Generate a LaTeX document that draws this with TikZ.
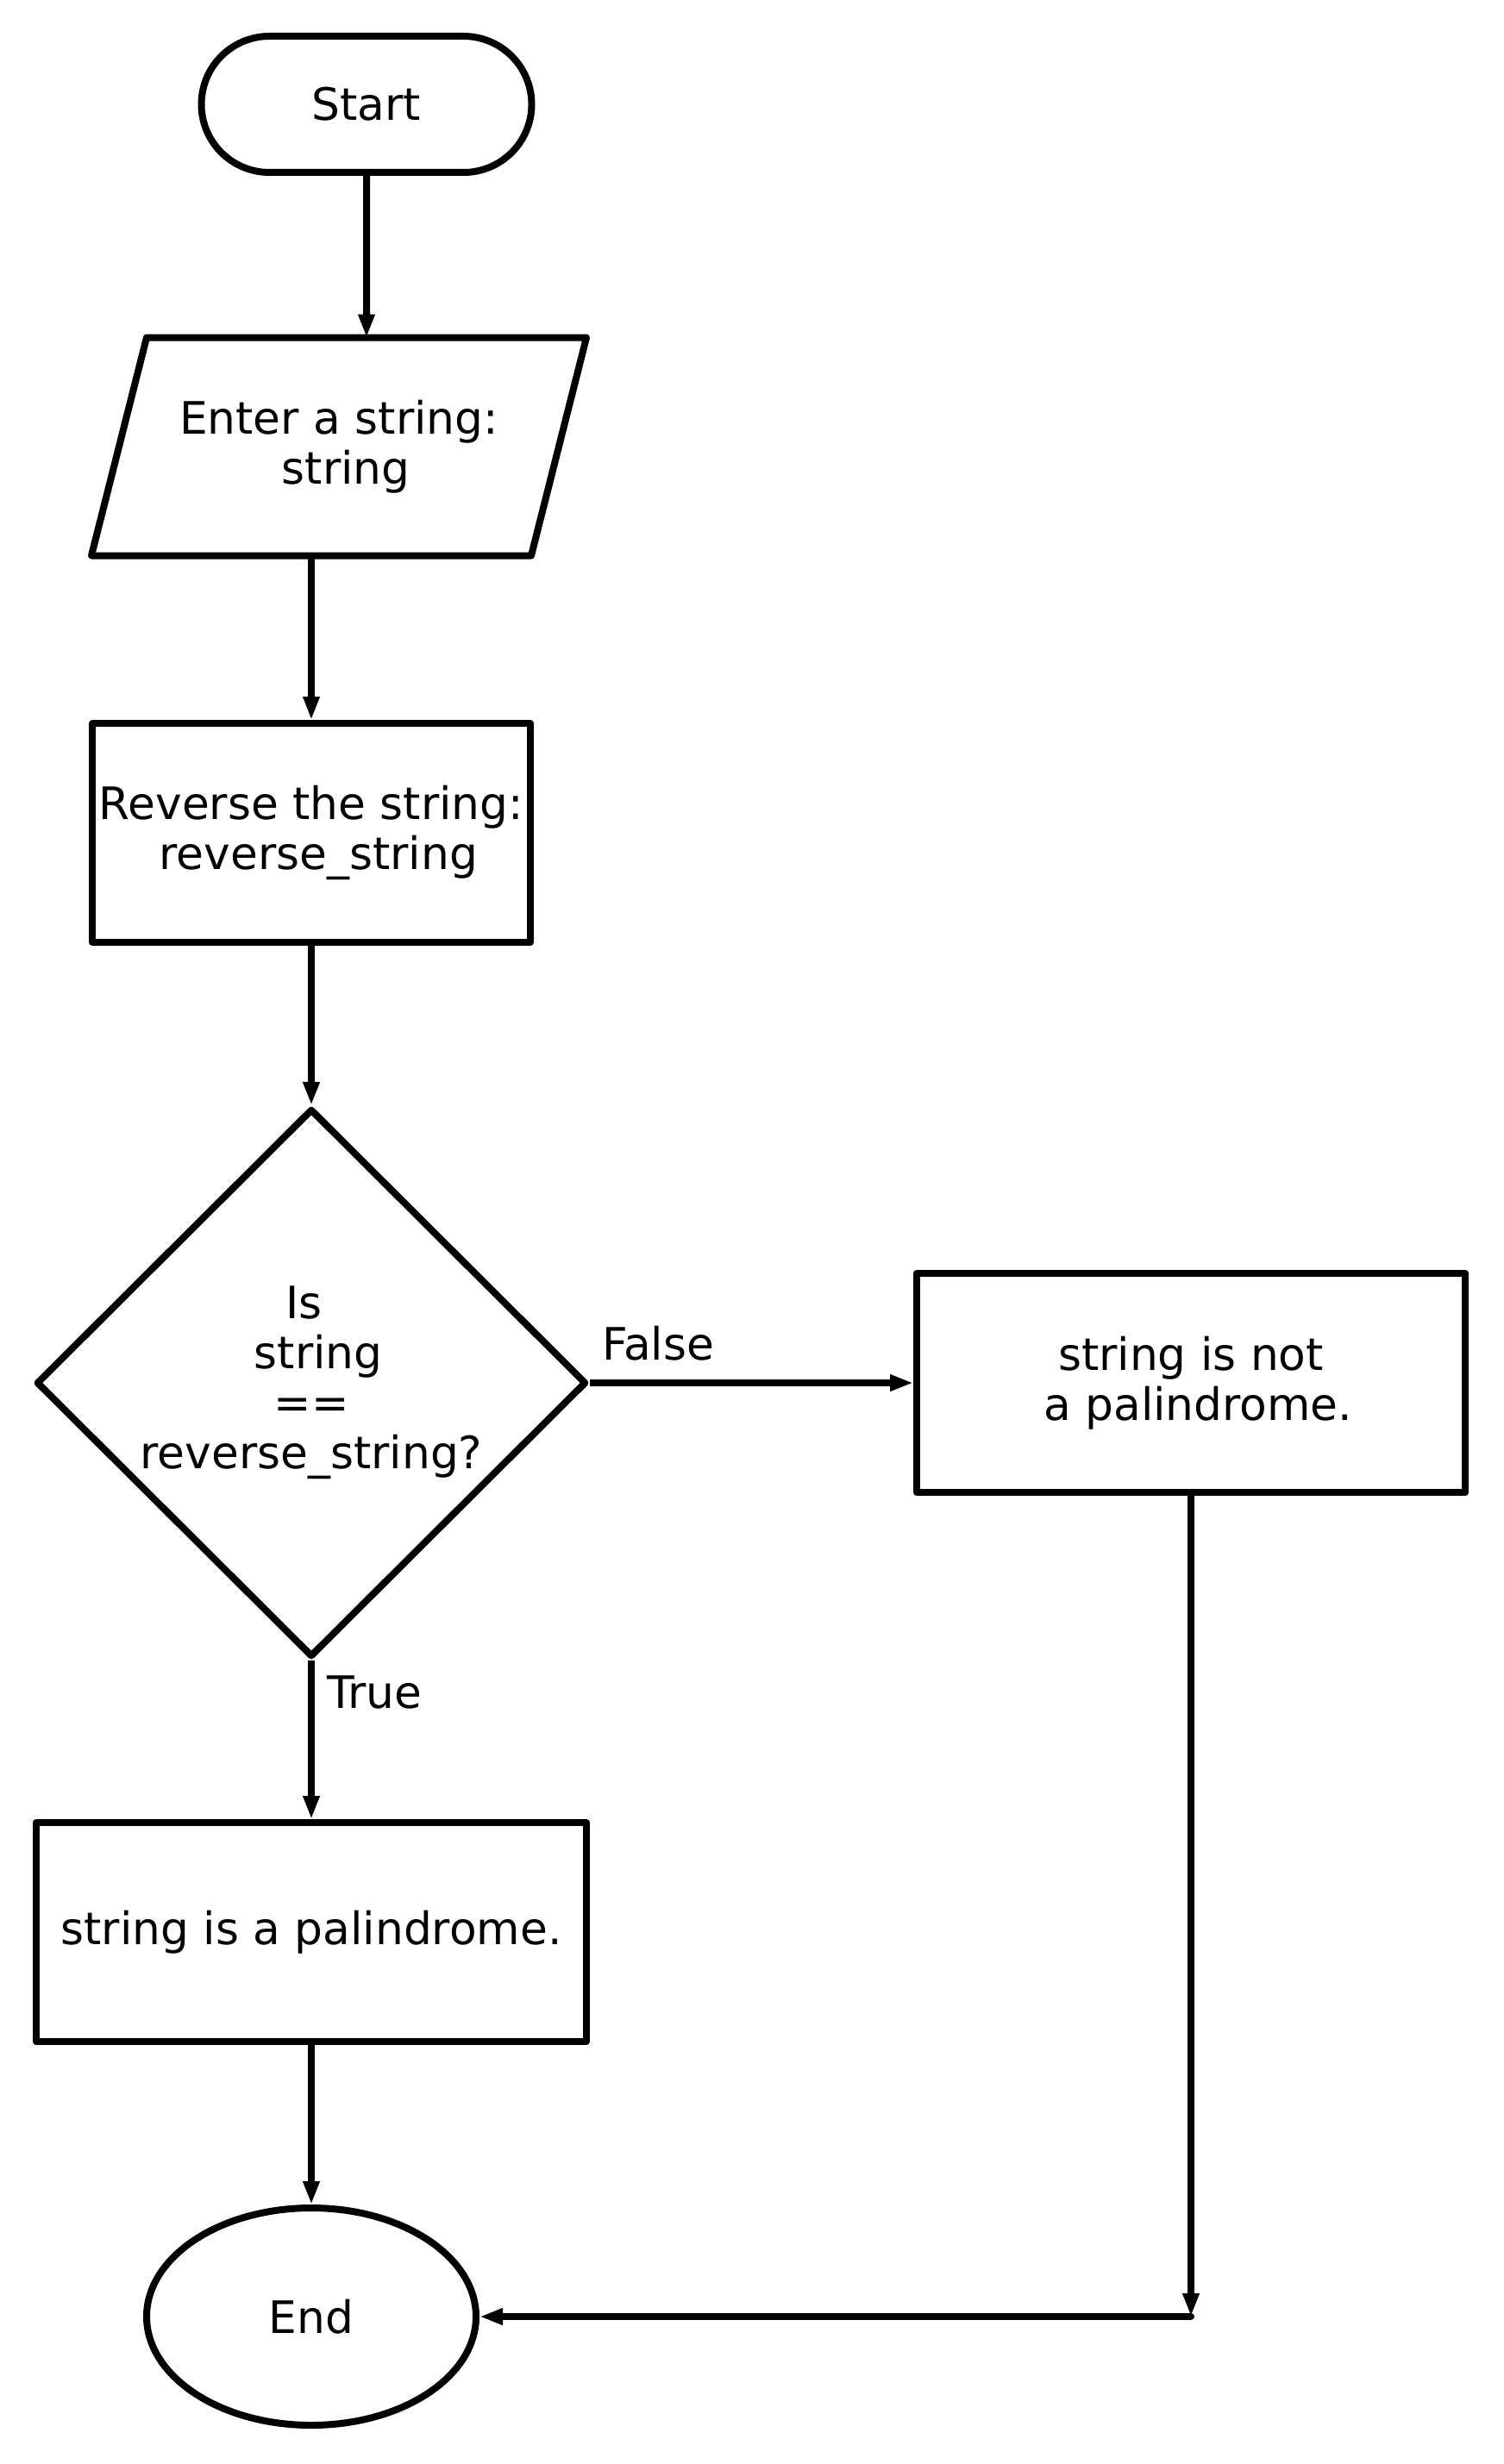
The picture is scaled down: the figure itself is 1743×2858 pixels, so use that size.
\documentclass[tikz,border=0pt]{standalone}
\usepackage{fontspec}
\setmainfont{DejaVu Sans}
\usetikzlibrary{shapes,arrows.meta,positioning}

\begin{document}
\begin{tikzpicture}[x=1pt,y=-1pt,line width=8pt,line join=round,
  -{Triangle[length=27pt,width=18pt]},
  every node/.append style={font=\fontsize{51.8}{58}\selectfont,align=center,inner sep=0pt}]
  \tikzstyle{block} = [draw,rectangle,minimum height=254pt]
  \tikzstyle{term} = [draw,rounded rectangle,minimum width=383pt,minimum height=158pt]
  \tikzstyle{label} = [pos=0,anchor=base west]
  \useasboundingbox (0,0) rectangle (1743,2858);
  \node (start) at (425,121) [term] {Start};
  \node (input) at (393,518) [rectangle,outer sep=0pt,minimum width=510pt,minimum height=253pt] {Enter a string:\\\mbox{\ }string};
  \draw[-] ([xshift=32pt]input.north west) -- ([xshift=32pt]input.north east)
    -- ([xshift=-32pt]input.south east) -- ([xshift=-32pt]input.south west) -- cycle;
  \node (rev) at (361,966) [block,minimum width=508pt] {Reverse the string:\\\mbox{\ }reverse\_string};
  \node (dia) at (361,1604) [draw,diamond,minimum width=638pt,minimum height=636pt]
    {Is\mbox{\ }\\\mbox{\ }string\\==\\reverse\_string?};
  \node (notpal) at (1381,1604) [block,minimum width=636pt] {string is not\\\mbox{\ }a palindrome.};
  \node (pal) at (361,2241) [block,minimum width=638pt] {string is a palindrome.};
  \node (end) at (361,2687) [draw,ellipse,minimum width=382pt,minimum height=252pt] {End};
  \coordinate (corner) at (1381,2687);
  % connectors
  \draw (start) -- (start |- input.north);
  \draw (input.south -| rev) -- (rev);
  \draw (rev) -- (dia);
  \draw (dia) -- node[label,xshift=10pt,yshift=27pt] {False} (notpal);
  \draw (dia) -- node[label,xshift=14pt,yshift=-55pt] {True} (pal);
  \draw (pal) -- (end);
  \draw (notpal) -- (corner);
  \draw[line cap=round] (corner) -- (end);
\end{tikzpicture}
\end{document}
